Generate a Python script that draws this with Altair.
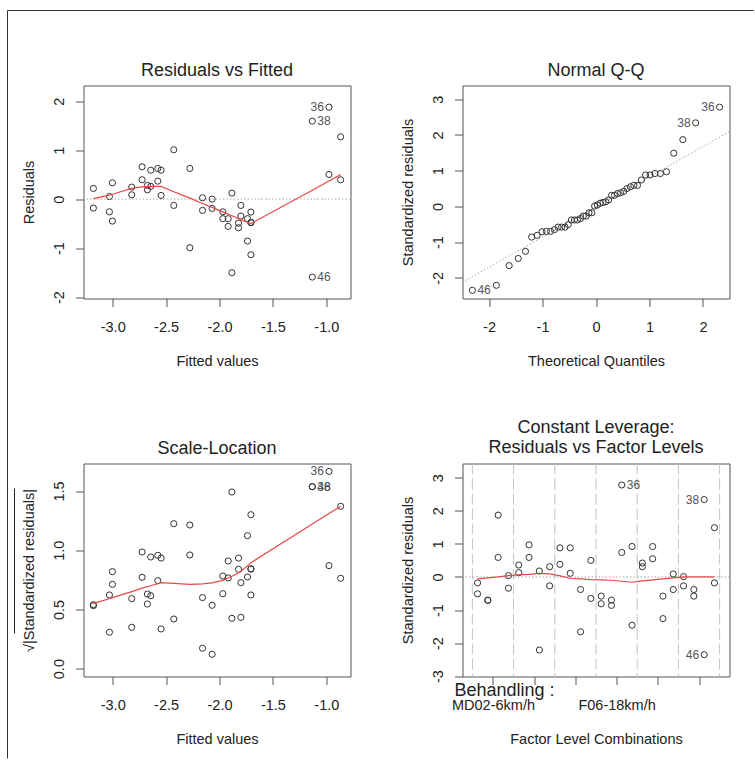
import altair as alt
import pandas as pd

FONT = "Liberation Sans"
INK = "#222222"
FRAME = "#555555"
SMOOTH = "#e8474a"
POINT = "#333333"
W, H = 267, 213

# ---------------- Residuals vs Fitted ----------------
rvf_fitted = [-3.181, -3.181, -3.031, -3.031, -3.003, -3.003, -2.822, -2.822,
              -2.725, -2.725, -2.675, -2.675, -2.644, -2.644, -2.578, -2.578,
              -2.547, -2.547, -2.428, -2.428, -2.278, -2.278, -2.159, -2.159,
              -2.069, -2.069, -1.969, -1.969, -1.919, -1.919, -1.884, -1.884,
              -1.822, -1.822, -1.800, -1.800, -1.738, -1.738, -1.706, -1.706,
              -1.706, -1.706, -1.131, -1.131, -0.975, -0.975, -0.866, -0.866]
rvf_resid = [0.218, -0.184, 0.054, -0.259, 0.333, -0.449, 0.245, 0.088,
             0.660, 0.395, 0.190, 0.280, 0.590, 0.260, 0.626, 0.367,
             0.590, 0.075, 1.007, -0.129, 0.626, -0.993, 0.027, -0.231,
             0.000, -0.190, -0.259, -0.400, -0.400, -0.558, 0.122, -1.503,
             -0.490, -0.585, -0.129, -0.347, -0.400, -0.857, -0.265, -0.483,
             -1.136, -0.475, 1.592, -1.592, 1.878, 0.503, 1.272, 0.395]
smooth_fitted = [-3.181, -3.031, -3.003, -2.822, -2.725, -2.644, -2.547, -2.428, -2.278,
                 -2.159, -2.069, -1.969, -1.884, -1.800, -1.706, -1.131, -0.975, -0.866]
rvf_smooth = [0.01, 0.08, 0.10, 0.22, 0.25, 0.26, 0.26, 0.15, 0.02,
              -0.09, -0.17, -0.26, -0.34, -0.42, -0.50, 0.18, 0.37, 0.50]
rvf_lab_id = ["36", "38", "46"]
rvf_lab_x = [-0.975, -1.131, -1.131]
rvf_lab_y = [1.878, 1.592, -1.592]

# ---------------- Normal Q-Q ----------------
qq_theoretical = [-2.311, -1.863, -1.624, -1.454, -1.318, -1.203, -1.101, -1.010,
                  -0.927, -0.849, -0.776, -0.708, -0.643, -0.579, -0.519, -0.460,
                  -0.402, -0.346, -0.291, -0.237, -0.184, -0.131, -0.078, -0.026,
                  0.026, 0.078, 0.131, 0.184, 0.237, 0.291, 0.346, 0.402,
                  0.460, 0.519, 0.579, 0.643, 0.708, 0.776, 0.849, 0.927,
                  1.010, 1.101, 1.203, 1.318, 1.454, 1.624, 1.863, 2.311]
qq_sample = [-2.35, -2.21, -1.66, -1.46, -1.26, -0.86, -0.81, -0.71,
             -0.70, -0.70, -0.65, -0.58, -0.58, -0.58, -0.51, -0.38,
             -0.38, -0.38, -0.34, -0.27, -0.27, -0.18, -0.18, 0.01,
             0.04, 0.09, 0.11, 0.13, 0.18, 0.31, 0.31, 0.36,
             0.38, 0.42, 0.50, 0.55, 0.59, 0.59, 0.74, 0.88,
             0.88, 0.92, 0.92, 0.97, 1.49, 1.87, 2.34, 2.78]
qq_line_x = [-2.55, 2.55]
qq_line_y = [-2.17, 2.14]
qq_lab_id = ["36", "38", "46"]
qq_lab_x = [2.311, 1.863, -2.311]
qq_lab_y = [2.78, 2.34, -2.35]

# ---------------- Scale-Location ----------------
sl_fitted = rvf_fitted
sl_root = [0.540, 0.532, 0.307, 0.622, 0.819, 0.712, 0.591, 0.349,
           0.985, 0.771, 0.630, 0.546, 0.943, 0.616, 0.957, 0.743,
           0.934, 0.335, 1.224, 0.419, 1.213, 0.960, 0.600, 0.172,
           0.535, 0.121, 0.782, 0.633, 0.909, 0.766, 1.492, 0.425,
           0.934, 0.839, 0.726, 0.433, 1.123, 0.774, 1.300, 0.844,
           0.622, 0.840, 1.537, 1.537, 1.666, 0.870, 1.371, 0.763]
sl_smooth = [0.551, 0.59, 0.60, 0.65, 0.68, 0.70, 0.726, 0.72, 0.712,
             0.715, 0.725, 0.745, 0.78, 0.82, 0.895, 1.221, 1.31, 1.371]
sl_lab_id = ["36", "38", "46"]
sl_lab_x = [-0.975, -1.131, -1.131]
sl_lab_y = [1.666, 1.537, 1.537]

# ---------------- Constant Leverage ----------------
factor_name = "Behandling"
level_names = ["MD02-6km/h", "", "", "F06-18km/h", "", ""]
combos_per_level = 4
cl_combo = [0, 0, 1, 1, 2, 2, 3, 3, 4, 4, 5, 5, 6, 6, 7, 7, 8, 8, 9, 9, 10, 10, 11, 11,
            12, 12, 13, 13, 14, 14, 15, 15, 16, 16, 17, 17, 18, 18, 19, 19, 20, 20,
            21, 21, 22, 22, 23, 23]
cl_std = [-0.18, -0.51, -0.70, -0.71, 1.87, 0.59, 0.04, -0.34, 0.36, 0.13, 0.97, 0.59,
          0.18, -2.21, 0.31, -0.27, 0.88, 0.38, 0.88, 0.11, -0.38, -1.66, 0.50, -0.65,
          -0.58, -0.81, -0.70, -0.86, 2.78, 0.74, 0.92, -1.46, 0.42, 0.31, 0.92, 0.55,
          -0.58, -1.26, 0.09, -0.38, 0.01, -0.27, -0.38, -0.58, 2.34, -2.35, 1.49, -0.18]
cl_smooth_x = [0, 1, 2, 3, 4, 5, 6, 7, 8, 9, 10, 11, 12, 13, 14, 15, 16, 17, 18, 19, 20, 21, 22, 23]
cl_smooth = [-0.06, -0.03, 0.00, 0.04, 0.06, 0.08, 0.11, 0.09, 0.03, -0.04, -0.06, -0.08,
             -0.09, -0.10, -0.13, -0.16, -0.12, -0.09, -0.06, -0.03, 0.00, 0.00, 0.00, 0.00]
cl_lab_id = ["36", "38", "46"]
cl_lab_x = [14, 22, 22]
cl_lab_y = [2.78, 2.34, -2.35]


def hyphen_expr(fmt):
    return (f"datum.value < 0 ? '-' + format(-datum.value, '{fmt}') "
            f": format(datum.value, '{fmt}')")


def pad_range(lo, hi, frac=0.04):
    d = (hi - lo) * frac
    return [lo - d, hi + d]


def enc(dom_x, dom_y, ticks_x, ticks_y, fmt_x, fmt_y, title_x, title_y, label_expr_x=None):
    ax_x = dict(values=ticks_x, labelExpr=label_expr_x or hyphen_expr(fmt_x),
                title=title_x, labelFlush=False, labelOverlap=False)
    ax_y = dict(values=ticks_y, labelExpr=hyphen_expr(fmt_y), title=title_y,
                labelFlush=False, labelOverlap=False)
    x = alt.X("x:Q", scale=alt.Scale(domain=dom_x, nice=False, zero=False), axis=alt.Axis(**ax_x))
    y = alt.Y("y:Q", scale=alt.Scale(domain=dom_y, nice=False, zero=False), axis=alt.Axis(**ax_y))
    return x, y


def points(xs, ys, x, y):
    df = pd.DataFrame({"x": xs, "y": ys})
    return alt.Chart(df).mark_point(shape="circle", filled=False, size=38, strokeWidth=1,
                                    color=POINT, opacity=1).encode(x=x, y=y)


def smooth(xs, ys, x, y):
    df = pd.DataFrame({"x": xs, "y": ys})
    return alt.Chart(df).mark_line(color=SMOOTH, strokeWidth=1.2).encode(x=x, y=y)


def zero_line(y):
    return alt.Chart(pd.DataFrame({"y": [0.0]})).mark_rule(
        color="#a8a8a8", strokeDash=[1.5, 2], strokeWidth=1).encode(y=y)


def id_labels(ids, xs, ys, x, y):
    # same rule as plot.lm: labels to the right of points in the lower half of their x range
    mid = (min(xs) + max(xs)) / 2
    side = ["left" if v > mid else "right" for v in xs]
    df = pd.DataFrame({"x": xs, "y": ys, "id": ids, "side": side})
    base = alt.Chart(df)
    style = dict(baseline="middle", fontSize=12, font=FONT, color="#555555")
    left = base.transform_filter("datum.side == 'left'").mark_text(
        align="right", dx=-5, **style).encode(x=x, y=y, text="id:N")
    right = base.transform_filter("datum.side == 'right'").mark_text(
        align="left", dx=5, **style).encode(x=x, y=y, text="id:N")
    return [left, right]


def title(text, offset=6):
    return alt.TitleParams(text=text, font=FONT, fontSize=18, fontWeight="normal",
                           color=INK, offset=offset, anchor="middle", lineHeight=20,
                           frame="group")


one = pd.DataFrame({"k": [0]})

# ---- panel 1 (also carries the page border) ----
fit_dom = pad_range(min(rvf_fitted), max(rvf_fitted))
x1, y1 = enc(fit_dom, [-2.03, 2.32], [-3.0, -2.5, -2.0, -1.5, -1.0], [-2, -1, 0, 1, 2],
             ".1f", "d", "Fitted values", "Residuals")
BORDER_UP = 75
page_top = alt.Chart(one).mark_rule(color="#333333", strokeWidth=1).encode(
    x=alt.value(-76), x2=alt.value(670), y=alt.value(-BORDER_UP))
page_left = alt.Chart(one).mark_rule(color="#333333", strokeWidth=1).encode(
    x=alt.value(-76), y=alt.value(-BORDER_UP), y2=alt.value(673))
p1 = alt.layer(
    zero_line(y1),
    points(rvf_fitted, rvf_resid, x1, y1),
    smooth(smooth_fitted, rvf_smooth, x1, y1),
    *id_labels(rvf_lab_id, rvf_lab_x, rvf_lab_y, x1, y1),
    page_top, page_left,
).properties(width=W, height=H,
             title=title("Residuals vs Fitted", offset=6 - (BORDER_UP + 0.5)))

# ---- panel 2 ----
x2, y2 = enc([-2.496, 2.496], [-2.58, 3.386], [-2, -1, 0, 1, 2], [-2, -1, 0, 1, 2, 3],
             "d", "d", "Theoretical Quantiles", "Standardized residuals")
qq_ref = alt.Chart(pd.DataFrame({"x": qq_line_x, "y": qq_line_y})).mark_line(
    color="#a8a8a8", strokeDash=[1.5, 2], strokeWidth=1, clip=True).encode(x=x2, y=y2)
p2 = alt.layer(
    qq_ref,
    points(qq_theoretical, qq_sample, x2, y2),
    *id_labels(qq_lab_id, qq_lab_x, qq_lab_y, x2, y2),
).properties(width=W, height=H, title=title("Normal Q-Q"))

# ---- panel 3 ----
x3, y3 = enc(fit_dom, pad_range(0, max(sl_root)), [-3.0, -2.5, -2.0, -1.5, -1.0],
             [0.0, 0.5, 1.0, 1.5], ".1f", ".1f", "Fitted values",
             "\u221a|Standardized residuals|")
# bar of the radical sign over the rotated y title
radical_bar = alt.Chart(one).mark_rule(color=INK, strokeWidth=1).encode(
    x=alt.value(-69), y=alt.value(25), y2=alt.value(170))
p3 = alt.layer(
    points(sl_fitted, sl_root, x3, y3),
    smooth(smooth_fitted, sl_smooth, x3, y3),
    *id_labels(sl_lab_id, sl_lab_x, sl_lab_y, x3, y3),
    radical_bar,
).properties(width=W, height=H, title=title("Scale-Location"))

# ---- panel 4 ----
n_levels = len(level_names)
n_combos = n_levels * combos_per_level
level_centres = [combos_per_level * (i + 0.5) - 0.5 for i in range(n_levels)]
level_bounds = [combos_per_level * i - 0.5 for i in range(n_levels + 1)]
lab_expr = " : ".join(f"datum.value == {c} ? '{n}'" for c, n in zip(level_centres, level_names)) + " : ''"
x4, y4 = enc(pad_range(-0.5, n_combos - 0.5), [-3.01, 3.43], level_centres,
             [-3, -2, -1, 0, 1, 2, 3], "d", "d", "Factor Level Combinations",
             "Standardized residuals", label_expr_x=lab_expr)
bounds = alt.Chart(pd.DataFrame({"x": level_bounds})).mark_rule(
    color="#c4c4c4", strokeDash=[11, 4], strokeWidth=1).encode(x=x4)
factor_tag = alt.Chart(one).mark_text(
    align="left", baseline="alphabetic", font=FONT, fontSize=18, color=INK).encode(
    x=alt.value(-8), y=alt.value(H + 19), text=alt.value(f"{factor_name} :"))
p4 = alt.layer(
    bounds,
    zero_line(y4),
    points(cl_combo, cl_std, x4, y4),
    smooth(cl_smooth_x, cl_smooth, x4, y4),
    *id_labels(cl_lab_id, cl_lab_x, cl_lab_y, x4, y4),
    factor_tag,
).properties(width=W, height=H,
             title=title(["Constant Leverage:", "Residuals vs Factor Levels"]))

chart = alt.concat(
    p1, p2, p3, p4, columns=2, spacing={"row": 165, "column": 112}, bounds="flush"
).properties(
    padding={"left": 6.5, "top": 9.5, "right": 0, "bottom": 0},
    background="white",
).configure_view(
    stroke=FRAME, strokeWidth=1
).configure_axis(
    domain=False, grid=False, ticks=True, tickColor=FRAME, tickSize=8, tickWidth=1,
    labelFont=FONT, labelFontSize=14.5, labelColor=INK,
    titleFont=FONT, titleFontSize=14.5, titleFontWeight="normal", titleColor=INK,
).configure_axisX(
    labelPadding=14, titlePadding=20
).configure_axisY(
    labelAngle=270, labelAlign="center", labelBaseline="alphabetic",
    labelPadding=12, titlePadding=15
)

chart.save("out.html", embed_options={"renderer": "svg", "actions": False})
